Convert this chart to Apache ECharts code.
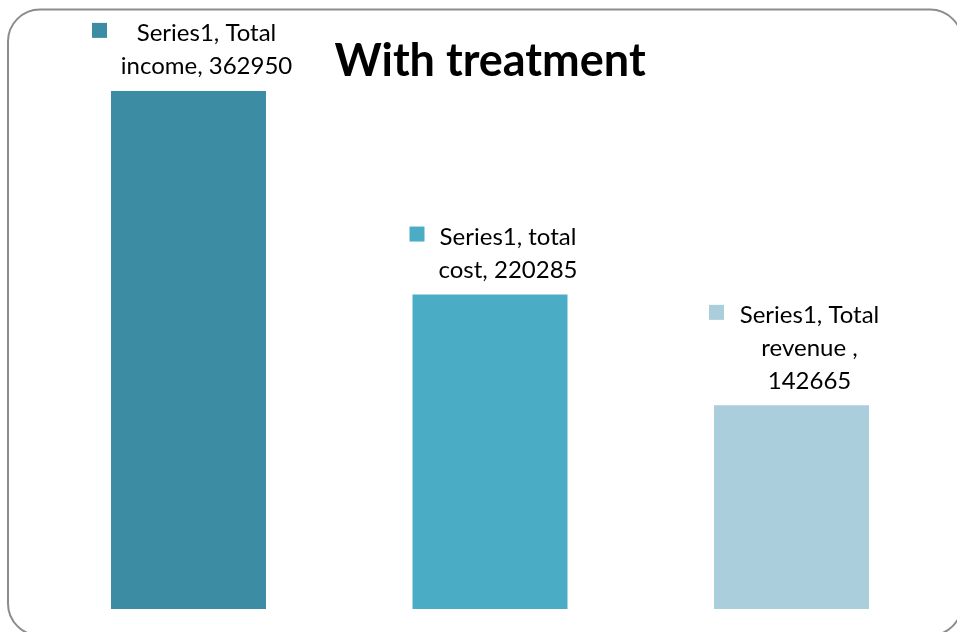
<!DOCTYPE html>
<html>
<head>
<meta charset="utf-8">
<script src="https://cdn.jsdelivr.net/npm/echarts@6/dist/echarts.min.js"></script>
<style>
html,body{margin:0;padding:0;background:#fff;}
#c{width:957px;height:632px;}
</style>
</head>
<body>
<div id="c"></div>
<script>
const categories = ['Total income', 'total cost', 'Total revenue '];
const values = [362950, 220285, 142665];
const seriesName = 'Series1';
const labelTexts = ['Series1, Total\nincome, 362950', 'Series1, total\ncost, 220285', 'Series1, Total\nrevenue ,\n142665'];
const colors = ['#3C8CA3', '#4BACC6', '#AACEDC'];

const keyOffsets = [[-89, -60.5], [-73, -60.5], [-75, -93]];
const FONT = 'Lato, "Liberation Sans", sans-serif';

const chart = echarts.init(document.getElementById('c'), null, {renderer: 'canvas'});
chart.setOption({
  animation: false,
  backgroundColor: '#ffffff',
  title: {
    text: 'With treatment',
    left: 485, top: 34, textAlign: 'center',
    textStyle: {fontFamily: FONT, fontWeight: 'bold', fontSize: 45, color: '#000'}
  },
  graphic: [{
    type: 'rect', z: -1, silent: true,
    shape: {x: 8, y: 9.5, width: 954, height: 626, r: 32},
    style: {fill: 'none', stroke: '#8c8c8c', lineWidth: 2}
  }],
  grid: {left: 37.75, right: 14.75, top: 38, bottom: 23},
  xAxis: {
    type: 'category', data: categories,
    axisLine: {show: false}, axisTick: {show: false}, axisLabel: {show: false}
  },
  yAxis: {
    type: 'value', min: 0, max: 400000,
    axisLine: {show: false}, axisTick: {show: false}, axisLabel: {show: false},
    splitLine: {show: false}
  },
  series: [{
    name: seriesName, type: 'bar', barWidth: 155,
    data: values.map((v, i) => ({
      value: v,
      itemStyle: {color: colors[i]},
      label: {
        show: true, position: 'top', distance: 8, offset: [18, 0],
        formatter: labelTexts[i],
        fontFamily: FONT, fontSize: 24, lineHeight: 33, color: '#000', align: 'center'
      }
    }))
  }, {
    name: seriesName + ' key', type: 'scatter', symbol: 'rect', symbolSize: 15,
    data: values.map((v, i) => ({
      value: v,
      symbolOffset: keyOffsets[i],
      itemStyle: {color: colors[i], opacity: 1}
    })),
    z: 5
  }]
});
</script>
</body>
</html>
